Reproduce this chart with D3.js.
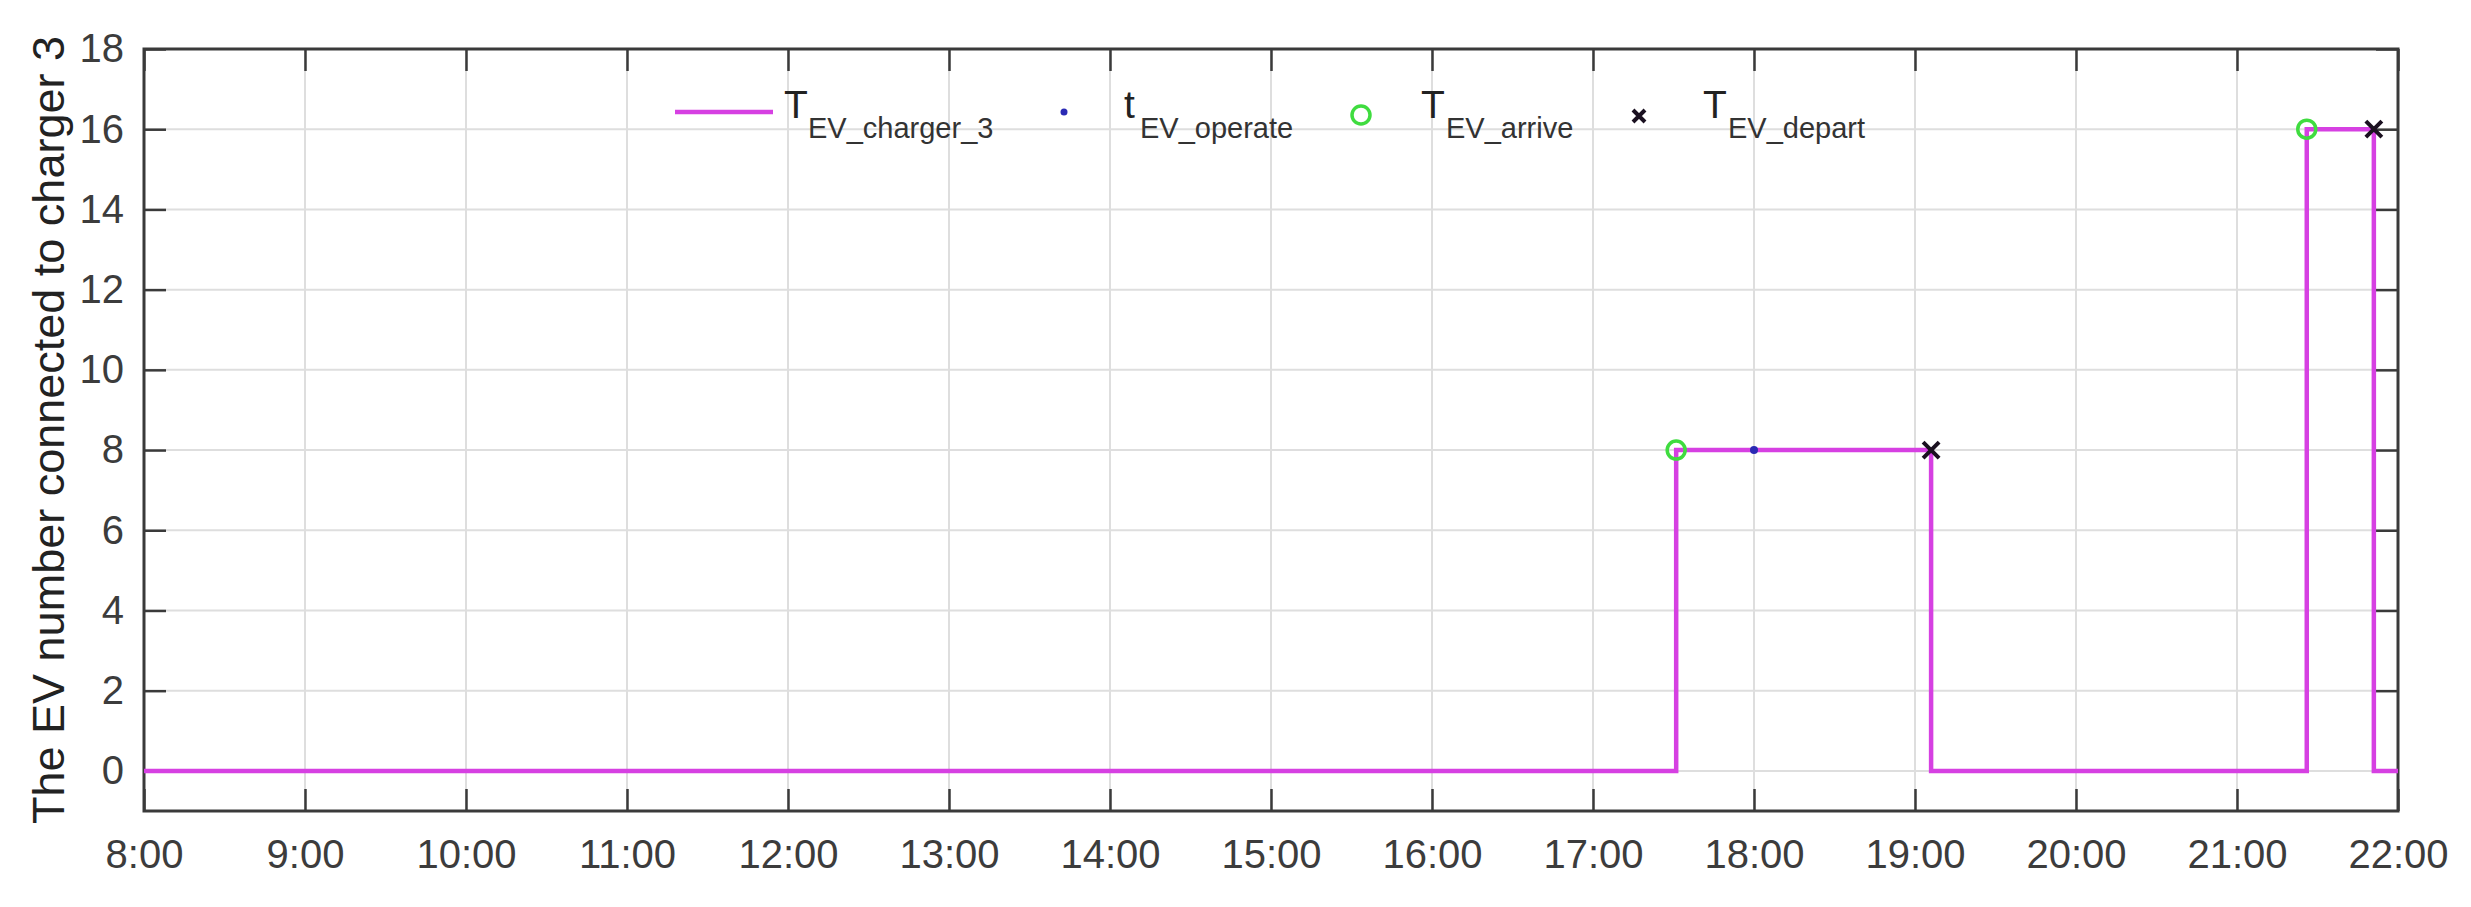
<!DOCTYPE html>
<html>
<head>
<meta charset="utf-8">
<script src="https://cdn.jsdelivr.net/npm/d3@7"></script>
<style>
  html, body { margin: 0; padding: 0; background: #ffffff; }
  svg { display: block; }
</style>
</head>
<body>
<svg id="chart" width="2471" height="907"></svg>
<script>
// ---- data ----
const stepTimes = ["8:00", "17:31", "19:06", "21:26", "21:51", "22:00"];
const stepValues = [0, 8, 0, 16, 0, 0];
const arriveTimes = ["17:31", "21:26"];
const arriveValues = [8, 16];
const operateTimes = ["18:00"];
const operateValues = [8];
const departTimes = ["19:06", "21:51"];
const departValues = [8, 16];
const xTickLabels = ["8:00","9:00","10:00","11:00","12:00","13:00","14:00","15:00","16:00","17:00","18:00","19:00","20:00","21:00","22:00"];
const yTickValues = [0, 2, 4, 6, 8, 10, 12, 14, 16, 18];
const yLabel = "The EV number connected to charger 3";
const legendMain = ["T", "t", "T", "T"];
const legendSub = ["EV_charger_3", "EV_operate", "EV_arrive", "EV_depart"];

// ---- helpers ----
const toMin = s => { const [h, m] = s.split(":").map(Number); return h * 60 + m; };

const L = 144, R = 2398, T = 49, B = 811;
const x = d3.scaleLinear().domain([toMin("8:00"), toMin("22:00")]).range([L, R]);
const y = d3.scaleLinear().domain([-1, 18]).range([B, T]);

const svg = d3.select("#chart");
const FONT = "'Liberation Sans', Arial, Helvetica, sans-serif";
const axisColor = "#3a3a3a";
const tickLen = 22;

// grid
const g = svg.append("g");
g.selectAll(".vgrid").data(xTickLabels.slice(1, -1)).enter().append("line")
  .attr("x1", d => x(toMin(d))).attr("x2", d => x(toMin(d)))
  .attr("y1", T).attr("y2", B)
  .attr("stroke", "#dedede").attr("stroke-width", 2);
g.selectAll(".hgrid").data(yTickValues.filter(v => v < 18)).enter().append("line")
  .attr("x1", L).attr("x2", R)
  .attr("y1", d => y(d)).attr("y2", d => y(d))
  .attr("stroke", "#dedede").attr("stroke-width", 2);

// axes
const xTickVals = xTickLabels.map(toMin);
const styleAxis = sel => {
  sel.select(".domain").remove();
  sel.selectAll(".tick line").attr("stroke", axisColor).attr("stroke-width", 2.5);
  sel.selectAll(".tick text").attr("fill", "#3c3c3c").style("font-family", FONT).style("font-size", "40px");
};
svg.append("g").attr("transform", `translate(0,${B})`)
  .call(d3.axisBottom(x).tickValues(xTickVals).tickFormat((d, i) => xTickLabels[i])
    .tickSizeInner(-tickLen).tickSizeOuter(0).tickPadding(29))
  .call(styleAxis);
svg.append("g").attr("transform", `translate(0,${T})`)
  .call(d3.axisTop(x).tickValues(xTickVals).tickFormat("")
    .tickSizeInner(-tickLen).tickSizeOuter(0))
  .call(styleAxis);
svg.append("g").attr("transform", `translate(${L},0)`)
  .call(d3.axisLeft(y).tickValues(yTickValues).tickFormat(d3.format("d"))
    .tickSizeInner(-tickLen).tickSizeOuter(0).tickPadding(20))
  .call(styleAxis);
svg.append("g").attr("transform", `translate(${R},0)`)
  .call(d3.axisRight(y).tickValues(yTickValues).tickFormat("")
    .tickSizeInner(-tickLen).tickSizeOuter(0))
  .call(styleAxis);

// box
svg.append("rect").attr("x", L).attr("y", T).attr("width", R - L).attr("height", B - T)
  .attr("fill", "none").attr("stroke", axisColor).attr("stroke-width", 3);

// y label
svg.append("text")
  .attr("transform", `translate(64,${(T + B) / 2}) rotate(-90)`)
  .attr("text-anchor", "middle")
  .style("font-family", FONT).style("font-size", "45px").attr("fill", "#222")
  .text(yLabel);

// series
const magenta = "#d640e2";
const stepData = stepTimes.map((t, i) => ({ t: toMin(t), v: stepValues[i] }));
svg.append("path").datum(stepData)
  .attr("d", d3.line().x(d => x(d.t)).y(d => y(d.v)).curve(d3.curveStepAfter))
  .attr("fill", "none").attr("stroke", magenta).attr("stroke-width", 4.5);

svg.selectAll(".arr").data(arriveTimes).enter().append("circle")
  .attr("cx", d => x(toMin(d))).attr("cy", (d, i) => y(arriveValues[i]))
  .attr("r", 9).attr("fill", "none").attr("stroke", "#3fdc3f").attr("stroke-width", 3.5);

svg.selectAll(".op").data(operateTimes).enter().append("circle")
  .attr("cx", d => x(toMin(d))).attr("cy", (d, i) => y(operateValues[i]))
  .attr("r", 4).attr("fill", "#2a2ab4");

const cross = (sel, s) => sel.attr("d", `M${-s},${-s}L${s},${s}M${-s},${s}L${s},${-s}`)
  .attr("stroke", "#1a1020").attr("stroke-width", 4).attr("fill", "none");
svg.selectAll(".dep").data(departTimes).enter().append("path")
  .attr("transform", (d, i) => `translate(${x(toMin(d))},${y(departValues[i])})`)
  .call(cross, 8);

// legend
const leg = svg.append("g");
leg.append("line").attr("x1", 675).attr("x2", 773).attr("y1", 112).attr("y2", 112)
  .attr("stroke", magenta).attr("stroke-width", 4.5);
leg.append("circle").attr("cx", 1064).attr("cy", 112).attr("r", 3.5).attr("fill", "#2a2ab4");
leg.append("circle").attr("cx", 1361).attr("cy", 115).attr("r", 9)
  .attr("fill", "none").attr("stroke", "#3fdc3f").attr("stroke-width", 3.5);
leg.append("path").attr("transform", "translate(1639,116)").call(cross, 6);

const legX = [784, 1124, 1421, 1703];
const legSubX = [808, 1140, 1446, 1728];
legendMain.forEach((m, i) => {
  leg.append("text").attr("x", legX[i]).attr("y", 118)
    .style("font-family", FONT).style("font-size", "39px").attr("fill", "#222").text(m);
  leg.append("text").attr("x", legSubX[i]).attr("y", 138)
    .style("font-family", FONT).style("font-size", "29px").attr("fill", "#333").text(legendSub[i]);
});
</script>
</body>
</html>
